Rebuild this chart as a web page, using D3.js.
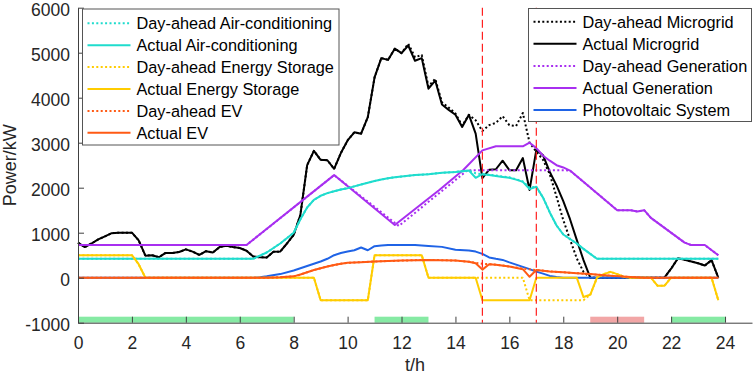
<!DOCTYPE html>
<html><head><meta charset="utf-8">
<script src="https://cdn.jsdelivr.net/npm/d3@7"></script>
<style>body{margin:0;background:#fff}svg{display:block;font-family:"Liberation Sans",Arial,sans-serif}</style>
</head><body><svg id="c" width="754" height="377"></svg>
<script>
// ---- data: [hour, kW] ----
const dayAheadAC = [[0,420],[6.5,420],[7,560],[7.5,760],[8,1000],[8.25,1300],[8.5,1560],[8.75,1730],[9,1820],[9.25,1880],[9.5,1920],[9.75,1960],[10,1990],[10.25,2030],[10.5,2070],[10.75,2110],[11,2150],[11.25,2180],[11.5,2210],[11.75,2230],[12,2250],[12.5,2280],[13,2300],[13.5,2330],[14,2350],[14.5,2380],[14.75,2320],[15,2300],[15.25,2290],[15.5,2270],[15.75,2250],[16,2230],[16.25,2190],[16.5,2140],[16.75,2000],[17,2020],[17.25,1780],[17.5,1450],[17.75,1160],[18,960],[18.25,860],[18.5,760],[18.75,640],[19,530],[19.25,420],[23.75,420]];
const actualAC = [[0,420],[6.5,420],[7,560],[7.5,760],[8,1000],[8.25,1300],[8.5,1560],[8.75,1730],[9,1820],[9.25,1880],[9.5,1920],[9.75,1960],[10,1990],[10.25,2030],[10.5,2070],[10.75,2110],[11,2150],[11.25,2180],[11.5,2210],[11.75,2230],[12,2250],[12.5,2280],[13,2300],[13.5,2330],[14,2350],[14.5,2380],[14.75,2220],[15,2300],[15.25,2280],[15.5,2260],[15.75,2240],[16,2220],[16.25,2180],[16.5,2130],[16.75,1970],[17,2020],[17.25,1780],[17.5,1450],[17.75,1160],[18,960],[18.25,860],[18.5,760],[18.75,640],[19,530],[19.25,420],[23.75,420]];
const dayAheadES = [[0,500],[2,500],[2.25,300],[2.5,0],[8.75,0],[9,-500],[10.75,-500],[11,500],[12.75,500],[13,0],[16.5,0],[16.75,-500],[18.75,-500],[19,-380],[19.25,0],[19.5,80],[19.75,130],[20,80],[20.25,20],[20.5,0],[21.25,0],[21.5,-180],[21.75,-180],[22,0],[23.5,0],[23.75,-500]];
const actualES = [[0,500],[2,500],[2.25,300],[2.5,0],[8.75,0],[9,-500],[10.75,-500],[11,500],[12.75,500],[13,0],[14.75,0],[15,-500],[16.75,-500],[17,0],[18.5,0],[18.75,-430],[19,-380],[19.25,0],[19.5,80],[19.75,130],[20,80],[20.25,20],[20.5,0],[21.25,0],[21.5,-180],[21.75,-180],[22,0],[23.5,0],[23.75,-500]];
const dayAheadEV = [[0,0],[7,0],[7.5,10],[8,30],[8.25,70],[8.5,120],[8.75,170],[9,210],[9.25,250],[9.5,280],[9.75,310],[10,330],[10.5,345],[11,360],[11.5,370],[12,380],[12.5,390],[13,395],[13.5,390],[14,380],[14.5,355],[14.75,330],[15,310],[15.25,300],[15.5,290],[16,250],[16.5,200],[16.75,185],[17,170],[17.5,140],[18,120],[18.5,100],[19,80],[19.5,55],[20,35],[20.5,15],[21,0],[23.75,0]];
const actualEV = [[0,0],[7,0],[7.5,10],[8,30],[8.25,70],[8.5,120],[8.75,170],[9,210],[9.25,250],[9.5,280],[9.75,310],[10,330],[10.5,345],[11,360],[11.5,370],[12,380],[12.5,390],[13,395],[13.5,390],[14,380],[14.5,355],[14.75,320],[15,180],[15.25,300],[15.5,290],[16,250],[16.5,190],[16.75,20],[17,170],[17.5,140],[18,120],[18.5,100],[19,80],[19.5,55],[20,35],[20.5,15],[21,0],[23.75,0]];
const dayAheadMG = [[0,780],[0.25,680],[0.5,760],[0.75,850],[1,920],[1.25,990],[1.5,1000],[1.75,1000],[2,1000],[2.25,830],[2.5,490],[2.75,500],[3,455],[3.25,550],[3.5,550],[3.75,570],[4,630],[4.25,580],[4.5,505],[4.75,590],[5,560],[5.25,680],[5.5,710],[5.75,680],[6,660],[6.25,600],[6.5,470],[6.75,455],[7,450],[7.25,575],[7.5,580],[7.75,760],[8,950],[8.25,1400],[8.5,2500],[8.75,2820],[9,2620],[9.25,2610],[9.5,2420],[9.75,2770],[10,3050],[10.25,3230],[10.5,3200],[10.75,3570],[11,4450],[11.25,4880],[11.5,4840],[11.75,5090],[12,4990],[12.25,5200],[12.5,4900],[12.75,4950],[13,4250],[13.25,4420],[13.5,3900],[13.75,3780],[14,3650],[14.25,3380],[14.5,3620],[14.75,3500],[15,3260],[15.25,3390],[15.5,3440],[15.75,3590],[16,3390],[16.25,3370],[16.5,3660],[16.75,3000],[17,2800],[17.25,2620],[17.5,2300],[17.75,1800],[18,1280],[18.25,850],[18.5,430],[18.75,130],[19,0],[21.75,0],[22,200],[22.25,430],[22.5,400],[22.75,360],[23,320],[23.25,270],[23.5,390],[23.75,0]];
const actualMG = [[0,780],[0.25,680],[0.5,760],[0.75,850],[1,920],[1.25,990],[1.5,1000],[1.75,1000],[2,1000],[2.25,830],[2.5,490],[2.75,500],[3,455],[3.25,550],[3.5,550],[3.75,570],[4,630],[4.25,580],[4.5,505],[4.75,590],[5,560],[5.25,680],[5.5,710],[5.75,680],[6,660],[6.25,600],[6.5,470],[6.75,455],[7,450],[7.25,575],[7.5,580],[7.75,760],[8,950],[8.25,1400],[8.5,2500],[8.75,2820],[9,2620],[9.25,2610],[9.5,2420],[9.75,2770],[10,3050],[10.25,3230],[10.5,3200],[10.75,3570],[11,4450],[11.25,4880],[11.5,4840],[11.75,5090],[12,4990],[12.25,5160],[12.5,4820],[12.75,4880],[13,4200],[13.25,4380],[13.5,3850],[13.75,3730],[14,3620],[14.25,3350],[14.5,3620],[14.75,3200],[15,2210],[15.25,2400],[15.5,2410],[15.75,2600],[16,2390],[16.25,2390],[16.5,2660],[16.75,1950],[17,2840],[17.25,2720],[17.5,2350],[17.75,2050],[18,1700],[18.25,1300],[18.5,840],[18.75,390],[19,0],[21.75,0],[22,200],[22.25,430],[22.5,400],[22.75,360],[23,320],[23.25,270],[23.5,390],[23.75,0]];
const dayAheadGen = [[0,725],[6.25,725],[9.5,2280],[11.9,1150],[13.4,1880],[14.45,2390],[18.1,2390],[18.25,2380],[20,1500],[20.5,1500],[20.75,1470],[21,1500],[21.25,1330],[22.5,780],[22.75,725],[23.25,725],[23.75,500]];
const actualGen = [[0,725],[6.25,725],[9.5,2280],[11.75,1170],[13.4,1950],[14.3,2400],[15,2830],[15.5,2920],[16.5,2920],[16.75,3000],[17,2880],[17.25,2710],[17.5,2600],[17.75,2500],[18,2450],[18.25,2380],[20,1500],[20.5,1500],[20.75,1470],[21,1500],[21.25,1330],[22.5,780],[22.75,725],[23.25,725],[23.75,500]];
const pvSystem = [[0,0],[6.5,0],[6.75,10],[7,30],[7.5,80],[8,160],[8.25,210],[8.5,260],[8.75,310],[9,360],[9.25,420],[9.5,500],[9.75,550],[10,580],[10.25,610],[10.5,670],[10.75,610],[11,700],[11.25,715],[11.5,725],[12,727],[12.5,727],[13,705],[13.5,685],[14,620],[14.5,605],[14.75,580],[15,530],[15.25,450],[15.5,420],[15.75,395],[16,340],[16.25,290],[16.5,240],[16.75,190],[17,135],[17.25,90],[17.5,40],[17.75,15],[18,0],[23.75,0]];
const markLines = [15, 17];
const strips = [[0,8,"green"],[11,13,"green"],[19,21,"red"],[22,24,"green"]];
const xTicks = [0,2,4,6,8,10,12,14,16,18,20,22,24];
const yTicks = [-1000,0,1000,2000,3000,4000,5000,6000];
const legendLeft = ["Day-ahead Air-conditioning","Actual Air-conditioning","Day-ahead Energy Storage","Actual Energy Storage","Day-ahead EV","Actual EV"];
const legendRight = ["Day-ahead Microgrid","Actual Microgrid","Day-ahead Generation","Actual Generation","Photovoltaic System"];

// ---- styles ----
const C = {cyan:"#1fdccd", yellow:"#ffcc00", orange:"#ff5a14", black:"#000", purple:"#a82ff0", blue:"#1f63e6"};
const DOT = "2,2.4";
const FONT = "'Liberation Sans',Arial,sans-serif";
const svg = d3.select("#c");
const x = d3.scaleLinear().domain([0,25]).range([78,752]);
const y = d3.scaleLinear().domain([-1000,6000]).range([322.7,7.7]);
const line = d3.line().x(d=>x(d[0])).y(d=>y(d[1]));

// strips
const stripCol = {green:"#86eaa4", red:"#f2a6a6"};
svg.selectAll("rect.strip").data(strips).join("rect")
  .attr("x",d=>x(d[0])).attr("width",d=>x(d[1])-x(d[0]))
  .attr("y",y(-1000)-6).attr("height",6).attr("fill",d=>stripCol[d[2]]);

const series = [
  {d:dayAheadMG,c:C.black,dash:DOT},{d:actualMG,c:C.black},
  {d:dayAheadGen,c:C.purple,dash:DOT},{d:actualGen,c:C.purple},
  {d:pvSystem,c:C.blue},
  {d:dayAheadAC,c:C.cyan,dash:DOT},{d:actualAC,c:C.cyan},
  {d:dayAheadES,c:C.yellow,dash:DOT},{d:actualES,c:C.yellow},
  {d:dayAheadEV,c:C.orange,dash:DOT},{d:actualEV,c:C.orange}
];
svg.append("g").selectAll("path").data(series).join("path")
  .attr("d",s=>line(s.d)).attr("fill","none").attr("stroke",s=>s.c)
  .attr("stroke-width",2).attr("stroke-linejoin","round")
  .attr("stroke-dasharray",s=>s.dash||null);

// red dashed lines
svg.selectAll("line.mark").data(markLines).join("line")
  .attr("x1",d=>x(d)).attr("x2",d=>x(d)).attr("y1",y(6000)).attr("y2",y(-1000))
  .attr("stroke","#ff2020").attr("stroke-width",1.2).attr("stroke-dasharray","8,4");

// axes
const axCol = "#404040";
const fmt = d => String(d);
const xAxis = svg.append("g").attr("transform",`translate(0,${y(-1000)})`)
  .call(d3.axisBottom(x).tickValues(xTicks).tickFormat(fmt).tickSizeInner(-6).tickSizeOuter(0).tickPadding(14));
const yAxis = svg.append("g").attr("transform",`translate(${x(0)},0)`)
  .call(d3.axisLeft(y).tickValues(yTicks).tickFormat(fmt).tickSizeInner(-6).tickSizeOuter(0).tickPadding(8));
[xAxis,yAxis].forEach(g=>{
  g.attr("font-family",FONT);
  g.select(".domain").attr("stroke",axCol).attr("stroke-width",1);
  g.selectAll(".tick line").attr("stroke",axCol);
  g.selectAll(".tick text").attr("fill","#262626").style("font-size","17.5px").style("font-family",FONT);
});
yAxis.selectAll(".tick text").attr("dy","0.42em");
svg.append("text").attr("x",x(12.5)).attr("y",371).attr("text-anchor","middle")
  .style("font-size","18px").attr("fill","#262626").text("t/h");
svg.append("text").attr("transform",`translate(16,${(y(6000)+y(-1000))/2}) rotate(-90)`)
  .attr("text-anchor","middle").style("font-size","18px").attr("fill","#262626").text("Power/kW");

// legends
function legend(x0,y0,w,h,first,step,labels,styles){
  const g = svg.append("g");
  g.append("rect").attr("x",x0).attr("y",y0).attr("width",w).attr("height",h)
    .attr("fill","#fff").attr("stroke","#555").attr("stroke-width",1);
  labels.forEach((t,i)=>{
    const cy = first + i*step;
    g.append("line").attr("x1",x0+5).attr("x2",x0+48).attr("y1",cy).attr("y2",cy)
      .attr("stroke",styles[i].c).attr("stroke-width",2).attr("stroke-dasharray",styles[i].dash||null);
    g.append("text").attr("x",x0+54).attr("y",cy).attr("dy","0.36em")
      .style("font-size","16.3px").attr("fill","#000").text(t);
  });
}
legend(82.5,9,256.5,136,23.3,21.9,legendLeft,
  [{c:C.cyan,dash:DOT},{c:C.cyan},{c:C.yellow,dash:DOT},{c:C.yellow},{c:C.orange,dash:DOT},{c:C.orange}]);
legend(528.5,8.5,223,113,21.7,22.1,legendRight,
  [{c:C.black,dash:DOT},{c:C.black},{c:C.purple,dash:DOT},{c:C.purple},{c:C.blue}]);
</script></body></html>
